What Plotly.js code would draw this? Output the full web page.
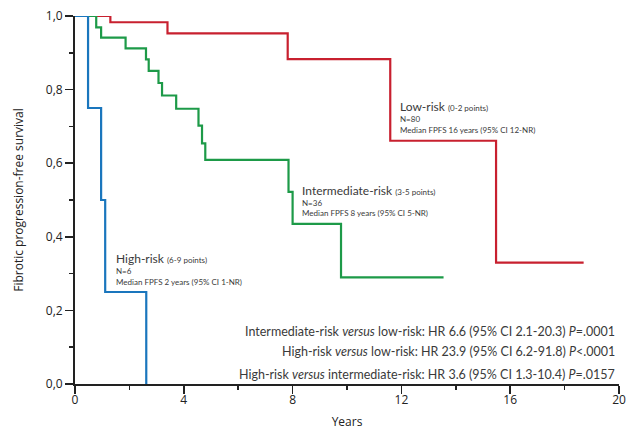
<!DOCTYPE html>
<html>
<head>
<meta charset="utf-8">
<script src="https://cdn.plot.ly/plotly-3.0.1.min.js"></script>
<style>html,body{margin:0;padding:0;background:#fff;}#chart{width:627px;height:430px;}</style>
</head>
<body>
<div id="chart"></div>
<script>
// Kaplan-Meier step data (years, survival)
const lowX  = [0, 1.30, 3.40, 7.82, 11.59, 15.48, 18.70];
const lowY  = [1, 0.983, 0.953, 0.883, 0.661, 0.330, 0.330];
const intX  = [0, 0.78, 0.96, 1.86, 2.61, 2.71, 3.07, 3.20, 3.72, 4.54, 4.67, 4.79, 7.85, 8.00, 9.78, 13.55];
const intY  = [1, 0.969, 0.941, 0.912, 0.882, 0.851, 0.818, 0.784, 0.748, 0.702, 0.654, 0.609, 0.522, 0.435, 0.290, 0.290];
const highX = [0, 0.48, 0.96, 1.11, 2.62];
const highY = [1, 0.75, 0.50, 0.25, 0];

const xTicks = [0, 4, 8, 12, 16, 20];
const yTicks = [0, 0.2, 0.4, 0.6, 0.8, 1.0];
const yTickText = ['0,0', '0,2', '0,4', '0,6', '0,8', '1,0'];

const hrLines = [
  'Intermediate-risk <i>versus</i> low-risk: HR 6.6 (95% CI 2.1-20.3) <i>P</i>=.0001',
  'High-risk <i>versus</i> low-risk: HR 23.9 (95% CI 6.2-91.8) <i>P</i>&lt;.0001',
  'High-risk <i>versus</i> intermediate-risk: HR 3.6 (95% CI 1.3-10.4) <i>P</i>=.0157'
];

const RED = '#c8202f', GREEN = '#1d9a48', BLUE = '#1a76bd';
const TXT = '#3a3a3a';
const annFont = 'Lato, "Open Sans", sans-serif';

const traces = [
  {x: lowX, y: lowY, mode: 'lines', line: {shape: 'hv', color: RED, width: 2.2}, hoverinfo: 'skip'},
  {x: intX, y: intY, mode: 'lines', line: {shape: 'hv', color: GREEN, width: 2.2}, hoverinfo: 'skip'},
  {x: highX, y: highY, mode: 'lines', line: {shape: 'hv', color: BLUE, width: 2.2}, hoverinfo: 'skip'}
];

function groupAnn(x, ys, title, pts, n, med) {
  return [
    {x: x, y: ys[0], xref: 'x', yref: 'y', xanchor: 'left', yanchor: 'middle', showarrow: false,
     text: title + ' <span style="font-size:8px">' + pts + '</span>', font: {family: annFont, size: 12, color: TXT}},
    {x: x, y: ys[1], xref: 'x', yref: 'y', xanchor: 'left', yanchor: 'middle', showarrow: false,
     text: n, font: {family: annFont, size: 8, color: TXT}},
    {x: x, y: ys[2], xref: 'x', yref: 'y', xanchor: 'left', yanchor: 'middle', showarrow: false,
     text: med, font: {family: annFont, size: 8, color: TXT}}
  ];
}

let annotations = [];
annotations = annotations.concat(groupAnn(11.88, [0.753, 0.719, 0.690], 'Low-risk', '(0-2 points)', 'N=80', 'Median FPFS 16 years (95% CI 12-NR)'));
annotations = annotations.concat(groupAnn(8.28, [0.526, 0.492, 0.464], 'Intermediate-risk', '(3-5 points)', 'N=36', 'Median FPFS 8 years (95% CI 5-NR)'));
annotations = annotations.concat(groupAnn(1.44, [0.341, 0.308, 0.276], 'High-risk', '(6-9 points)', 'N=6', 'Median FPFS 2 years (95% CI 1-NR)'));
const hrY = [0.144, 0.087, 0.027];
hrLines.forEach((t, i) => annotations.push({
  x: 0.996, y: hrY[i], xref: 'paper', yref: 'paper', xanchor: 'right', yanchor: 'middle', showarrow: false,
  text: t, font: {family: annFont, size: 12.5, color: TXT}
}));

const axisFont = {family: '"Open Sans", sans-serif', size: 12, color: '#222'};

const layout = {
  width: 627, height: 430,
  margin: {l: 75, r: 8, t: 16, b: 46},
  paper_bgcolor: '#fff', plot_bgcolor: '#fff',
  showlegend: false,
  xaxis: {
    range: [0, 20], tickvals: xTicks, ticks: 'outside', ticklen: 8, tickwidth: 1.5, tickcolor: '#222',
    showline: true, linecolor: '#222', linewidth: 2, showgrid: false, zeroline: false,
    tickfont: axisFont, ticklabelstandoff: -4,
    minor: {dtick: 2, ticks: 'outside', ticklen: 4, tickwidth: 1.5, tickcolor: '#222', showgrid: false},
    title: {text: 'Years', font: {family: '"Open Sans", sans-serif', size: 12, color: '#222'}, standoff: 12}
  },
  yaxis: {
    range: [0, 1], tickvals: yTicks, ticktext: yTickText, ticks: 'outside', ticklen: 8, tickwidth: 1.5, tickcolor: '#222',
    showline: true, linecolor: '#222', linewidth: 2, showgrid: false, zeroline: false,
    tickfont: axisFont,
    minor: {dtick: 0.1, ticks: 'outside', ticklen: 4, tickwidth: 1.5, tickcolor: '#222', showgrid: false},
    title: {text: 'Fibrotic progression-free survival', font: {family: '"Open Sans", sans-serif', size: 12, color: '#222'}, standoff: 20}
  },
  annotations: annotations
};

Plotly.newPlot('chart', traces, layout, {staticPlot: true, displayModeBar: false});
</script>
</body>
</html>
